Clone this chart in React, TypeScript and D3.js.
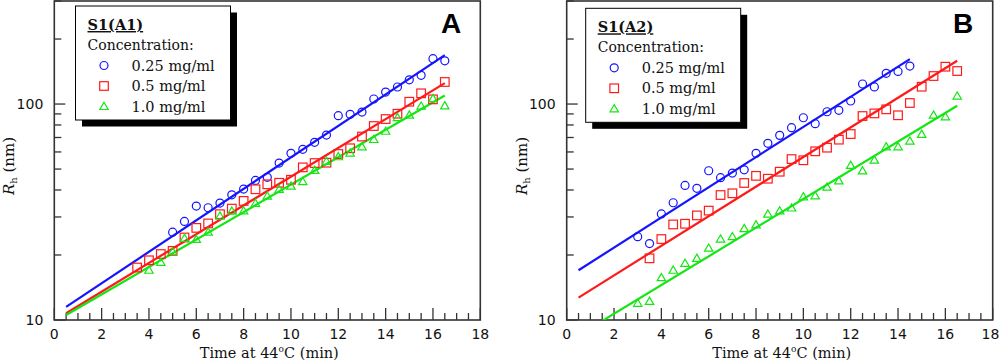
import * as d3 from "d3";

// ---- data ----
const xTickLabels = [0, 2, 4, 6, 8, 10, 12, 14, 16, 18];
const yTickLabels = [10, 100];

// panel A : S1(A1)
const tA1Blue = [5, 5.5, 6, 6.5, 7, 7.5, 8, 8.5, 9, 9.5, 10, 10.5, 11, 11.5, 12, 12.5, 13, 13.5, 14, 14.5, 15, 15.5, 16, 16.5];
const rA1Blue = [25.5, 28.6, 33.7, 33.1, 34.8, 38.0, 40.4, 44.3, 45.8, 53.3, 59.1, 61.7, 66.5, 71.8, 88.3, 89.6, 91.8, 105.5, 113.6, 119.9, 129.5, 135.8, 162.2, 158.6];
const tA1Red = [3.5, 4, 4.5, 5, 5.5, 6, 6.5, 7, 7.5, 8, 8.5, 9, 9.5, 10, 10.5, 11, 11.5, 12, 12.5, 13, 13.5, 14, 14.5, 15, 15.5, 16, 16.5];
const rA1Red = [17.5, 18.9, 20.2, 20.9, 24.1, 26.7, 28.0, 30.9, 32.8, 35.6, 40.3, 42.5, 43.2, 44.6, 50.9, 53.3, 53.5, 58.7, 62.4, 70.7, 79.1, 85.2, 90.2, 102.5, 112.1, 105.1, 126.5];
const tA1Green = [4, 4.5, 5, 5.5, 6, 6.5, 7, 7.5, 8, 8.5, 9, 9.5, 10, 10.5, 11, 11.5, 12, 12.5, 13, 13.5, 14, 14.5, 15, 15.5, 16, 16.5];
const rA1Green = [17.0, 18.5, 20.7, 23.9, 23.6, 25.5, 30.3, 31.9, 32.0, 34.7, 37.5, 40.3, 41.7, 43.7, 49.3, 54.3, 57.0, 59.3, 63.4, 68.5, 74.8, 86.6, 88.9, 97.9, 106.0, 98.1];
const fitA1Blue: [number, number][] = [[0.5, 11.5], [16.5, 168.6]];
const fitA1Red: [number, number][] = [[0.5, 10.74], [16.5, 125]];
const fitA1Green: [number, number][] = [[0.5, 10.55], [16.5, 109.5]];

// panel B : S1(A2)
const tA2Blue = [3, 3.5, 4, 4.5, 5, 5.5, 6, 6.5, 7, 7.5, 8, 8.5, 9, 9.5, 10, 10.5, 11, 11.5, 12, 12.5, 13, 13.5, 14, 14.5];
const rA2Blue = [24.3, 22.6, 31.0, 34.9, 42.0, 40.7, 49.1, 45.6, 47.9, 49.6, 59.1, 65.8, 71.6, 77.7, 86.4, 81.1, 92.1, 93.5, 103.3, 123.8, 120.0, 138.7, 141.6, 149.9];
const tA2Red = [3.5, 4, 4.5, 5, 5.5, 6, 6.5, 7, 7.5, 8, 8.5, 9, 9.5, 10, 10.5, 11, 11.5, 12, 12.5, 13, 13.5, 14, 14.5, 15, 15.5, 16, 16.5];
const rA2Red = [19.3, 23.7, 27.7, 27.9, 30.5, 32.1, 37.9, 38.6, 43.1, 46.5, 45.1, 48.6, 55.6, 54.9, 60.4, 62.8, 68.4, 72.6, 88.0, 90.5, 94.5, 88.7, 101.1, 120.3, 134.8, 148.9, 142.2];
const tA2Green = [3, 3.5, 4, 4.5, 5, 5.5, 6, 6.5, 7, 7.5, 8, 8.5, 9, 9.5, 10, 10.5, 11, 11.5, 12, 12.5, 13, 13.5, 14, 14.5, 15, 15.5, 16, 16.5];
const rA2Green = [11.95, 12.2, 15.7, 17.0, 18.3, 19.3, 21.5, 23.7, 24.3, 26.5, 27.6, 30.9, 32.0, 33.0, 37.2, 37.6, 41.2, 44.1, 52.0, 49.0, 55.0, 63.4, 63.4, 67.4, 72.4, 88.9, 87.3, 108.9];
const fitA2Blue: [number, number][] = [[0.5, 17.0], [14.5, 161.5]];
const fitA2Red: [number, number][] = [[0.5, 12.7], [16.5, 158.6]];
const fitA2Green: [number, number][] = [[0.5, 8.5], [16.5, 98.2]];

const legendLabels = ["0.25 mg/ml", "0.5 mg/ml", "1.0 mg/ml"];

const BLUE = "#1414ff";
const RED = "#ff1a1a";
const GREEN = "#14e614";
const colors = [BLUE, RED, GREEN];
const shapes = ["circle", "square", "triangle"];

const panels = [
  {
    id: "A", title: "S1(A1)", x0: 54.3, letterX: 451, legX: 75.5, legY: 6,
    series: [
      { t: tA1Blue, r: rA1Blue, fit: fitA1Blue },
      { t: tA1Red, r: rA1Red, fit: fitA1Red },
      { t: tA1Green, r: rA1Green, fit: fitA1Green },
    ],
  },
  {
    id: "B", title: "S1(A2)", x0: 566.7, letterX: 963, legX: 585.7, legY: 8.3,
    series: [
      { t: tA2Blue, r: rA2Blue, fit: fitA2Blue },
      { t: tA2Red, r: rA2Red, fit: fitA2Red },
      { t: tA2Green, r: rA2Green, fit: fitA2Green },
    ],
  },
];

function Marker({ shape, x, y, color }: { shape: string; x: number; y: number; color: string }) {
  if (shape === "circle")
    return <circle cx={x} cy={y} r={4} fill="none" stroke={color} strokeWidth={1.2} />;
  if (shape === "square")
    return <rect x={x - 4.3} y={y - 4.3} width={8.6} height={8.6} fill="none" stroke={color} strokeWidth={1.2} />;
  return (
    <path d={`M${x},${y - 4.2}L${x + 4.2},${y + 3}L${x - 4.2},${y + 3}Z`} fill="none" stroke={color} strokeWidth={1.2} />
  );
}

function Panel({ p }: { p: (typeof panels)[number] }) {
  const x = d3.scaleLinear().domain([0, 18]).range([p.x0, p.x0 + 426]);
  const y = d3.scaleLog().domain([10, 300]).range([320, 1]);
  const [xl, xr] = x.range();
  const [yb, yt] = y.range();
  const line = d3.line<[number, number]>().x(d => x(d[0])).y(d => y(d[1]));
  const clipId = "clip" + p.id;
  const minorX = x.ticks(36);
  const minorY = y.ticks();
  const axisColor = "#333";
  return (
    <g>
      <defs>
        <clipPath id={clipId}>
          <rect x={xl} y={yt} width={xr - xl} height={yb - yt} />
        </clipPath>
      </defs>
      {/* frame */}
      <rect x={xl} y={yt} width={xr - xl} height={yb - yt} fill="none" stroke={axisColor} strokeWidth={1.6} />
      {minorX.map(v => {
        const major = xTickLabels.includes(v);
        return <line key={"xt" + v} x1={x(v)} x2={x(v)} y1={yb} y2={yb - (major ? 12 : 7)} stroke={axisColor} strokeWidth={1.3} />;
      })}
      {xTickLabels.map(v => (
        <text key={"xl" + v} x={Math.min(x(v), 990.5)} y={339} textAnchor="middle" fontFamily="DejaVu Sans" fontSize={14} fill="#111">{v}</text>
      ))}
      {minorY.map(v => {
        const major = yTickLabels.includes(v);
        return <line key={"yt" + v} x1={xl} x2={xl + (major ? 11 : 7)} y1={y(v)} y2={y(v)} stroke={axisColor} strokeWidth={1.3} />;
      })}
      {yTickLabels.map(v => (
        <text key={"yl" + v} x={xl - 11} y={y(v) + 5} textAnchor="end" fontFamily="DejaVu Sans" fontSize={14} fill="#111">{v}</text>
      ))}
      {/* axis titles */}
      <text transform={`translate(${xl - 40},166) rotate(-90)`} textAnchor="middle" fontFamily="DejaVu Serif" fontSize={15} fill="#111">
        <tspan fontStyle="italic">R</tspan>
        <tspan fontSize={10} dy={3}>h</tspan>
        <tspan dy={-3}> (nm)</tspan>
      </text>
      <text x={(xl + xr) / 2 + 2} y={358} textAnchor="middle" fontFamily="DejaVu Serif" fontSize={14.5} fill="#111">
        Time at 44<tspan fontSize={9} dy={-6}>o</tspan><tspan dy={6}>C (min)</tspan>
      </text>
      {/* fits and points */}
      <g clipPath={`url(#${clipId})`}>
        {p.series.map((s, i) => (
          <path key={"f" + i} d={line(s.fit) ?? ""} fill="none" stroke={colors[i]} strokeWidth={2.2} />
        ))}
        {p.series.map((s, i) =>
          s.t.map((t, j) => <Marker key={`m${i}-${j}`} shape={shapes[i]} x={x(t)} y={y(s.r[j])} color={colors[i]} />)
        )}
      </g>
      {/* panel letter */}
      <text x={p.letterX} y={32.5} textAnchor="middle" fontFamily="Liberation Sans" fontWeight="bold" fontSize={28} fill="#000">{p.id}</text>
      {/* legend */}
      <rect x={p.legX + 6.5} y={p.legY + 6.5} width={155} height={114} fill="#000" />
      <rect x={p.legX} y={p.legY} width={155} height={114} fill="#fff" stroke="#000" strokeWidth={1} />
      <text x={p.legX + 12} y={p.legY + 24} fontFamily="DejaVu Serif" fontWeight="bold" fontSize={14.5} textDecoration="underline" fill="#111">{p.title}</text>
      <text x={p.legX + 12} y={p.legY + 44} fontFamily="DejaVu Serif" fontSize={14} fill="#111">Concentration:</text>
      {legendLabels.map((l, i) => (
        <g key={"lg" + i}>
          <Marker shape={shapes[i]} x={p.legX + 28.5} y={p.legY + 59.5 + i * 20.5} color={colors[i]} />
          <text x={p.legX + 56} y={p.legY + 64.5 + i * 20.5} fontFamily="DejaVu Serif" fontSize={14.5} fill="#111">{l}</text>
        </g>
      ))}
    </g>
  );
}

export default function App() {
  return (
    <svg width={1000} height={362} style={{ position: "absolute", left: 0, top: 0, background: "#fff" }}>
      <rect width={1000} height={362} fill="#fff" />
      {panels.map(p => <Panel key={p.id} p={p} />)}
    </svg>
  );
}
